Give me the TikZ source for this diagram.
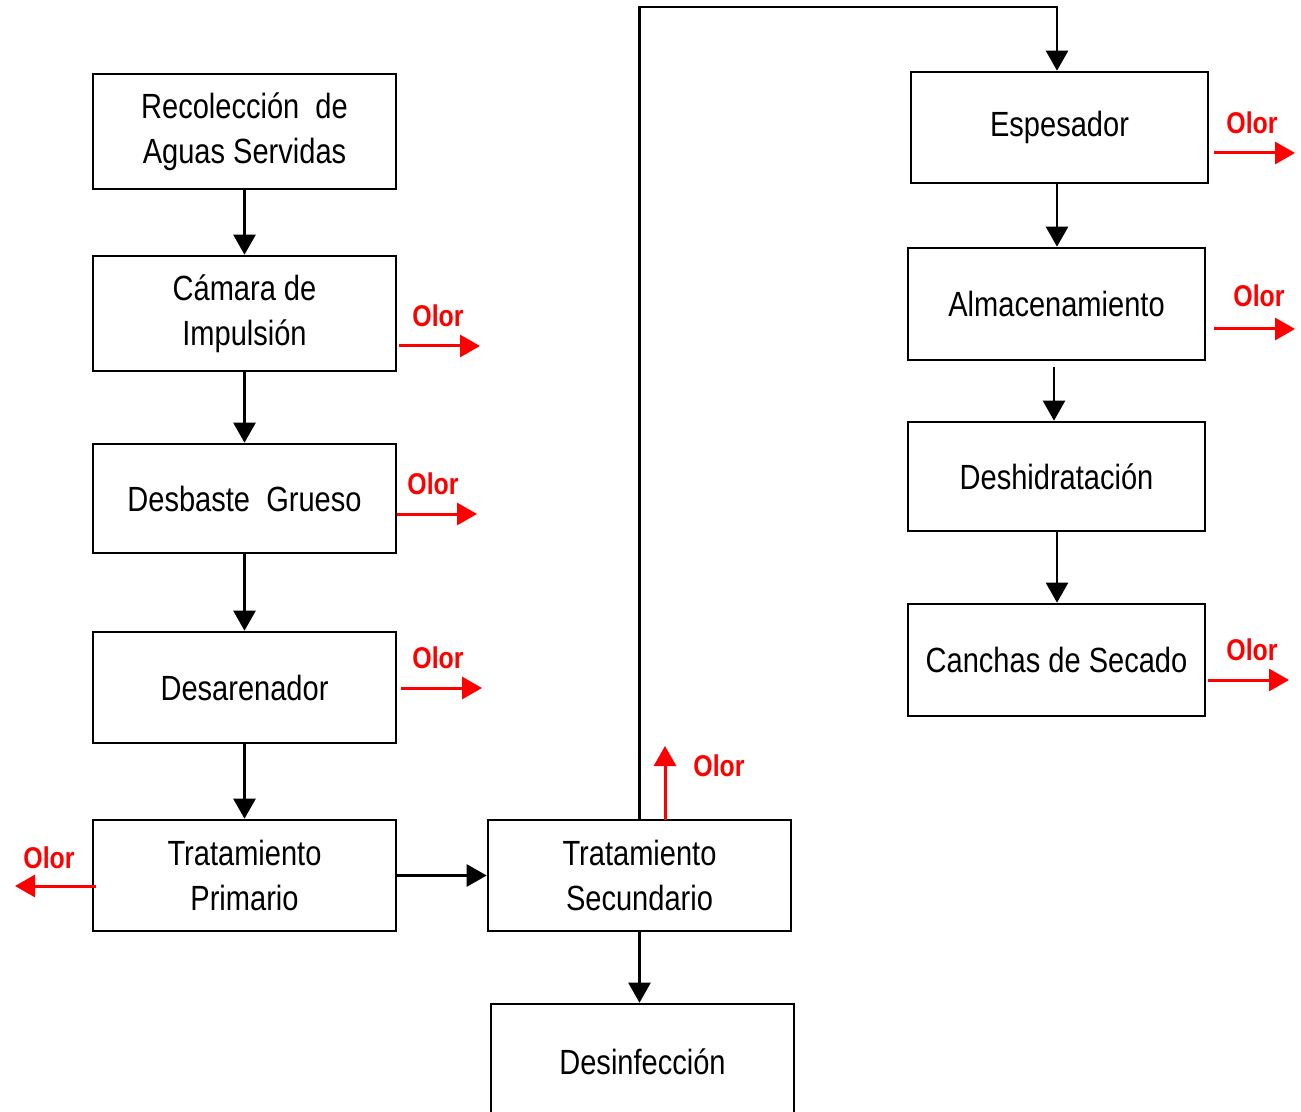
\documentclass[tikz,border=0pt]{standalone}
\usepackage{fontspec}
\setmainfont{Liberation Sans}[FakeStretch=0.83]
\usetikzlibrary{arrows.meta}
\begin{document}
\begin{tikzpicture}[x=0.5pt,y=-0.5pt,
  box/.style={draw=black,line width=1.3pt,rectangle,inner sep=0pt,align=center,
    font=\fontsize{17.5}{22.5}\selectfont},
  flow/.style={draw=black,line width=1.2pt,-{Triangle[width=11pt,length=10pt]}},
  olor/.style={draw=red,line width=1.5pt,-{Triangle[width=11pt,length=10pt]}},
  olortxt/.style={text=red,font=\fontsize{15}{18}\selectfont\bfseries,inner sep=0pt}]
\useasboundingbox (0,0) rectangle (1301,1112);
\begin{scope}
\clip (0,0) rectangle (1301,1112);
% left column
\node[box,minimum width=151.5pt,minimum height=57.5pt] (b1) at (244.5,131.5) {Recolección~~de\\Aguas Servidas};
\node[box,minimum width=151.5pt,minimum height=57.5pt] (b2) at (244.5,313.5) {Cámara de\\Impulsión};
\node[box,minimum width=151.5pt,minimum height=54.5pt] (b3) at (244.5,498.5) {Desbaste~~Grueso};
\node[box,minimum width=151.5pt,minimum height=55.5pt] (b4) at (244.5,687.5) {Desarenador};
\node[box,minimum width=151.5pt,minimum height=55.5pt] (b5) at (244.5,875.5) {Tratamiento\\Primario};
% middle
\node[box,minimum width=151.5pt,minimum height=55.5pt] (b6) at (639.5,875.5) {Tratamiento\\Secundario};
\node[box,minimum width=151.5pt,minimum height=58pt] (b7) at (642.5,1062) {Desinfección};
% right column
\node[box,minimum width=148.5pt,minimum height=55.5pt] (b8) at (1059.5,127.5) {Espesador};
\node[box,minimum width=148.5pt,minimum height=56pt] (b9) at (1056.5,304) {Almacenamiento};
\node[box,minimum width=148.5pt,minimum height=54.5pt] (b10) at (1056.5,476.5) {Deshidratación};
\node[box,minimum width=148.5pt,minimum height=56pt] (b11) at (1056.5,660) {Canchas de Secado};

% black flow
\draw[flow] (b1.south) -- (b2.north);
\draw[flow] (b2.south) -- (b3.north);
\draw[flow] (b3.south) -- (b4.north);
\draw[flow] (b4.south) -- (b5.north);
\draw[flow] (b5.east) -- (b6.west);
\draw[flow] (b6.south) -- (b6.south |- b7.north);
\coordinate (tl) at (639.5,7);
\coordinate (tr) at (1057,7);
\draw[flow] (b6.north) -- (tl) -- (tr) -- (tr |- b8.north);
\draw[flow] (b8.south -| tr) -- (tr |- b9.north);
\coordinate (a9) at (1054,367);
\draw[flow] (a9) -- (a9 |- b10.north);
\draw[flow] (b10.south -| tr) -- (tr |- b11.north);

% odour arrows
\coordinate (o2a) at (399,346); \coordinate (o2b) at (480,346);
\draw[olor] (o2a) -- (o2b);
\node[olortxt] (t2) at (438,316) {Olor};
\coordinate (o3a) at (397,514); \coordinate (o3b) at (477,514);
\draw[olor] (o3a) -- (o3b);
\node[olortxt] (t3) at (433,484) {Olor};
\coordinate (o4a) at (401,688); \coordinate (o4b) at (482,688);
\draw[olor] (o4a) -- (o4b);
\node[olortxt] (t4) at (438,658) {Olor};
\coordinate (o5a) at (96,886); \coordinate (o5b) at (15,886);
\draw[olor] (o5a) -- (o5b);
\node[olortxt] (t5) at (49,858) {Olor};
\coordinate (o6a) at (665,820); \coordinate (o6b) at (665,746);
\draw[olor] (o6a) -- (o6b);
\node[olortxt] (t6) at (719,766) {Olor};
\coordinate (o8a) at (1214,153); \coordinate (o8b) at (1295,153);
\draw[olor] (o8a) -- (o8b);
\node[olortxt] (t8) at (1252,123) {Olor};
\coordinate (o9a) at (1214,329); \coordinate (o9b) at (1295,329);
\draw[olor] (o9a) -- (o9b);
\node[olortxt] (t9) at (1259,296) {Olor};
\coordinate (o11a) at (1208,680); \coordinate (o11b) at (1289,680);
\draw[olor] (o11a) -- (o11b);
\node[olortxt] (t11) at (1252,650) {Olor};
\end{scope}
\end{tikzpicture}
\end{document}
